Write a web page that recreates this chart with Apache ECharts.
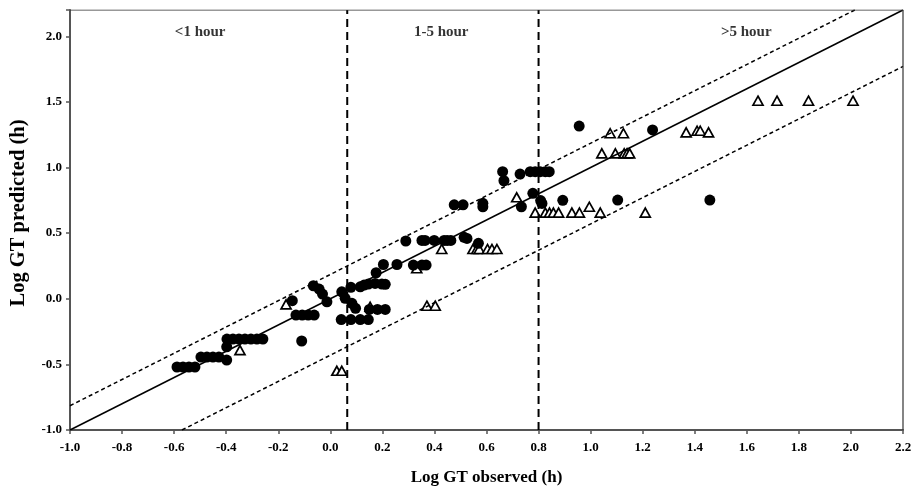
<!DOCTYPE html>
<html>
<head>
<meta charset="utf-8">
<script src="https://cdn.jsdelivr.net/npm/echarts@6/dist/echarts.min.js"></script>
<style>
  html, body { margin: 0; padding: 0; background: #fff; }
  #chart { width: 914px; height: 492px; }
</style>
</head>
<body>
<div id="chart"></div>
<script>
// Observed vs predicted log generation time (h)
const circleObs = [
  -0.589, -0.566, -0.543, -0.520,
  -0.497, -0.474, -0.451, -0.428, -0.398, -0.398,
  -0.397, -0.374, -0.351, -0.328, -0.305, -0.282, -0.259,
  -0.146, -0.132, -0.108, -0.085, -0.062, -0.110,
  -0.065, -0.043, -0.030, -0.013,
  0.044, 0.057, 0.079, 0.083, 0.097,
  0.042, 0.079, 0.115, 0.146,
  0.150, 0.181, 0.211,
  0.115, 0.130, 0.146, 0.172, 0.198, 0.211,
  0.176, 0.204, 0.256, 0.319, 0.352, 0.368,
  0.290, 0.352, 0.364, 0.399, 0.437, 0.449, 0.463,
  0.514, 0.525, 0.569,
  0.476, 0.510, 0.586, 0.586,
  0.662, 0.667, 0.729,
  0.768, 0.787, 0.806, 0.826, 0.841,
  0.778, 0.734, 0.808, 0.813, 0.893,
  0.956, 1.104, 1.238, 1.458
];
const circlePred = [
  -0.520, -0.520, -0.520, -0.520,
  -0.444, -0.444, -0.444, -0.444, -0.467, -0.366,
  -0.307, -0.307, -0.307, -0.307, -0.307, -0.307, -0.307,
  -0.015, -0.124, -0.124, -0.124, -0.124, -0.322,
  0.099, 0.074, 0.036, -0.023,
  0.053, 0.003, 0.087, -0.035, -0.073,
  -0.159, -0.159, -0.159, -0.159,
  -0.081, -0.081, -0.081,
  0.091, 0.104, 0.112, 0.117, 0.112, 0.110,
  0.198, 0.261, 0.261, 0.257, 0.257, 0.257,
  0.440, 0.444, 0.444, 0.444, 0.444, 0.444, 0.444,
  0.468, 0.460, 0.422,
  0.716, 0.716, 0.727, 0.701,
  0.968, 0.899, 0.950,
  0.968, 0.968, 0.968, 0.968, 0.968,
  0.803, 0.701, 0.748, 0.726, 0.750,
  1.316, 0.752, 1.286, 0.752
];
const triangleObs = [
  -0.347, -0.170, 0.025, 0.044, 0.153, 0.332, 0.371, 0.403, 0.428,
  0.548, 0.563, 0.572, 0.604, 0.621, 0.640, 0.716,
  0.787, 0.826, 0.842, 0.857, 0.877, 0.928, 0.957, 1.037, 1.210, 0.995,
  1.043, 1.095, 1.129, 1.140, 1.150, 1.075, 1.126,
  1.367, 1.409, 1.421, 1.453,
  1.643, 1.716, 1.837, 2.008
];
const trianglePred = [
  -0.391, -0.043, -0.549, -0.549, -0.061, 0.232, -0.053, -0.053, 0.379,
  0.379, 0.379, 0.379, 0.379, 0.379, 0.379, 0.773,
  0.656, 0.656, 0.656, 0.656, 0.656, 0.656, 0.656, 0.656, 0.656, 0.701,
  1.108, 1.108, 1.108, 1.108, 1.108, 1.261, 1.261,
  1.268, 1.280, 1.280, 1.268,
  1.509, 1.509, 1.509, 1.509
];

// Axis ranges, line of identity and the error band offsets
const axisMin = -1.0;
const axisMax = 2.2;
const upperOffset = 0.185;
const lowerOffset = -0.43;
// Boundaries between the time classes (log h)
const classBounds = [0.065, 0.80];
const classLabels = ['<1 hour', '1-5 hour', '>5 hour'];
const classLabelX = [-0.5, 0.426, 1.598];
const classLabelY = 2.035;
const xTitle = 'Log GT observed (h)';
const yTitle = 'Log GT predicted (h)';

const zip = (xs, ys) => xs.map((x, i) => [x, ys[i]]);

// Clip a line y = x + off to the square axis range
function diagLine(off) {
  const x0 = Math.max(axisMin, axisMin - off);
  const x1 = Math.min(axisMax, axisMax - off);
  return [[x0, x0 + off], [x1, x1 + off]];
}

const serif = '"Liberation Serif", "Times New Roman", serif';
const chart = echarts.init(document.getElementById('chart'));

chart.setOption({
  animation: false,
  grid: { left: 70, right: 11, top: 10, bottom: 62, show: false, containLabel: false, outerBoundsMode: 'none' },
  graphic: [{
    type: 'text', x: 18.5, y: 213, rotation: Math.PI / 2, silent: true,
    style: {
      text: yTitle, fontFamily: serif, fontWeight: 'bold', fontSize: 20.5, fill: '#000',
      align: 'center', verticalAlign: 'middle'
    }
  }],
  xAxis: {
    type: 'value', min: axisMin, max: axisMax, interval: 0.2,
    name: xTitle, nameLocation: 'middle', nameGap: 39,
    nameTextStyle: { fontFamily: serif, fontWeight: 'bold', fontSize: 17, color: '#000' },
    axisLine: { show: true, onZero: false, lineStyle: { color: '#555', width: 2 } },
    axisTick: { show: true, length: 4, lineStyle: { color: '#555', width: 1.5 } },
    axisLabel: {
      fontFamily: serif, fontWeight: 'bold', fontSize: 13, color: '#000', margin: 11,
      formatter: v => v.toFixed(1)
    },
    splitLine: { show: false }
  },
  yAxis: {
    type: 'value', min: axisMin, max: axisMax, interval: 0.5,
    axisLine: { show: true, onZero: false, lineStyle: { color: '#555', width: 2 } },
    axisTick: { show: true, length: 4, lineStyle: { color: '#555', width: 1.5 } },
    axisLabel: {
      fontFamily: serif, fontWeight: 'bold', fontSize: 13, color: '#000', margin: 8,
      formatter: v => (Math.abs(v - axisMax) < 1e-6 ? '' : v.toFixed(1))
    },
    splitLine: { show: false }
  },
  series: [
    {
      type: 'line', data: diagLine(0), symbol: 'none', silent: true,
      lineStyle: { color: '#000', width: 1.5 }
    },
    {
      type: 'line', data: diagLine(upperOffset), symbol: 'none', silent: true,
      lineStyle: { color: '#000', width: 1.5, type: [4, 3] }
    },
    {
      type: 'line', data: diagLine(lowerOffset), symbol: 'none', silent: true,
      lineStyle: { color: '#000', width: 1.5, type: [4, 3] }
    },
    {
      type: 'line', data: [[classBounds[0], axisMin], [classBounds[0], axisMax]],
      symbol: 'none', silent: true,
      lineStyle: { color: '#000', width: 2, type: [8, 5] }
    },
    {
      type: 'line', data: [[classBounds[1], axisMin], [classBounds[1], axisMax]],
      symbol: 'none', silent: true,
      lineStyle: { color: '#000', width: 2, type: [8, 5] }
    },
    {
      // top and right frame of the plot area
      type: 'line', data: [[axisMin, axisMax], [axisMax, axisMax], [axisMax, axisMin]],
      symbol: 'none', silent: true,
      lineStyle: { color: '#333', width: 1.2 }
    },
    {
      type: 'scatter', data: zip(triangleObs, trianglePred),
      symbol: 'triangle', symbolSize: [10, 9],
      itemStyle: { color: '#fff', borderColor: '#000', borderWidth: 1.7, opacity: 1 }
    },
    {
      type: 'scatter', data: zip(circleObs, circlePred),
      symbol: 'circle', symbolSize: 11,
      itemStyle: { color: '#000', opacity: 1 }
    },
    {
      type: 'scatter', silent: true, symbolSize: 0,
      data: classLabels.map((t, i) => ({ value: [classLabelX[i], classLabelY], name: t })),
      label: {
        show: true, position: 'inside', formatter: p => p.name,
        fontFamily: serif, fontWeight: 'bold', fontSize: 15, color: '#000'
      }
    }
  ]
});
</script>
</body>
</html>
